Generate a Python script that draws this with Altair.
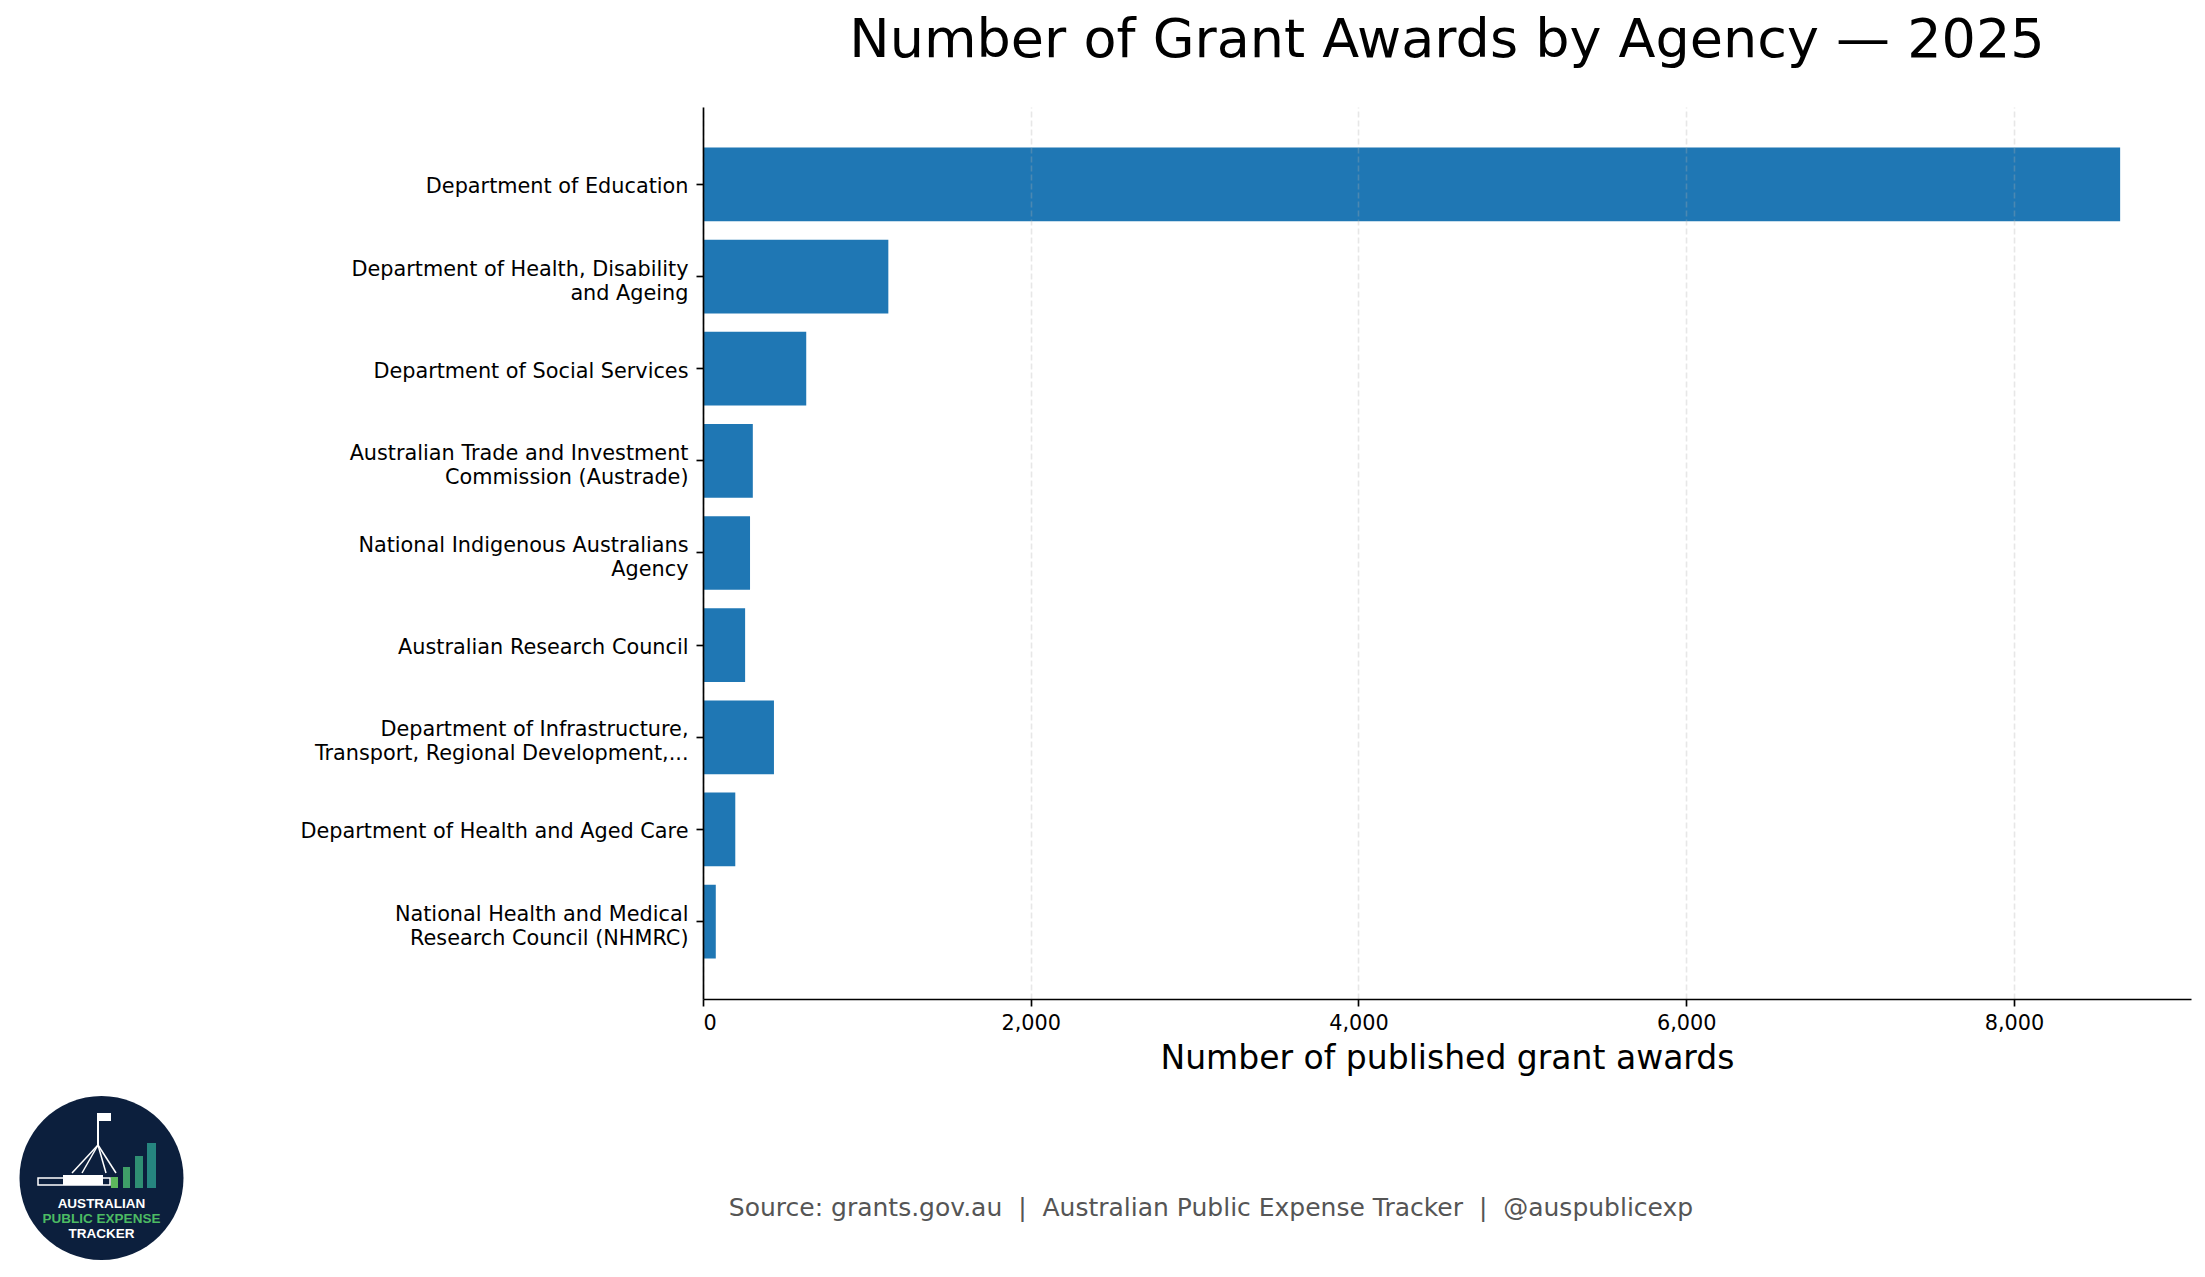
import altair as alt
import pandas as pd

# ---- data ----
agencies = [
    "Department of Education",
    "Department of Health, Disability\nand Ageing",
    "Department of Social Services",
    "Australian Trade and Investment\nCommission (Austrade)",
    "National Indigenous Australians\nAgency",
    "Australian Research Council",
    "Department of Infrastructure,\nTransport, Regional Development,...",
    "Department of Health and Aged Care",
    "National Health and Medical\nResearch Council (NHMRC)",
]
awards = [8648, 1131, 630, 304, 287, 257, 433, 197, 78]
x_ticks = [0, 2000, 4000, 6000, 8000]

title_text = "Number of Grant Awards by Agency \u2014 2025"
x_title = "Number of published grant awards"
source_parts = ["Source: grants.gov.au", "Australian Public Expense Tracker", "@auspublicexp"]
logo_lines = ["AUSTRALIAN", "PUBLIC EXPENSE", "TRACKER"]

source_text = "\u00a0\u00a0|\u00a0\u00a0".join(source_parts)

df = pd.DataFrame({"agency": agencies, "awards": awards})
x_max = max(awards) * 1.05

FONT = "DejaVu Sans"
W, H = 1488, 892

bars = alt.Chart(df).mark_bar(color="#1f77b4").encode(
    x=alt.X(
        "awards:Q",
        scale=alt.Scale(domain=[0, x_max], nice=False, zero=True),
        axis=alt.Axis(
            values=x_ticks,
            format=",d",
            title=x_title,
            titleFontSize=33,
            titleFontWeight="normal",
            titleColor="black",
            titleX=W / 2,
            titleY=69,
            titleAlign="center",
            titleBaseline="alphabetic",
            labelFontSize=20.8,
            labelPadding=7,
            tickSize=7,
            grid=True,
            gridColor="#b0b0b0",
            gridOpacity=0.3,
            gridDash=[6, 3],
            gridWidth=1.6,
            zindex=1,
        ),
    ),
    y=alt.Y(
        "agency:N",
        sort=agencies,
        scale=alt.Scale(paddingInner=0.2, paddingOuter=0.44),
        axis=alt.Axis(
            title=None,
            labelExpr="split(datum.label, '\\n')",
            labelFontSize=20.8,
            labelLineHeight=24,
            labelLimit=1000,
            labelPadding=8,
            labelOffset={
                "condition": {"test": "indexof(datum.label, '\\n') >= 0", "value": -7},
                "value": 3,
            },
            tickSize=7,
            grid=False,
            zindex=1,
        ),
    ),
)

one = pd.DataFrame({"k": [0]})

title = alt.Chart(one).mark_text(
    text=title_text, font=FONT, fontSize=54, color="black",
    align="center", baseline="alphabetic",
).encode(x=alt.value(W / 2), y=alt.value(-50))

source = alt.Chart(one).mark_text(
    text=source_text, font=FONT, fontSize=25, color="#555555",
    align="center", baseline="alphabetic",
).encode(x=alt.value(508), y=alt.value(1109))

# ---- logo (decoration) ----
LX, LY = -601.5, 1071
logo_bg = alt.Chart(one).mark_point(
    shape="circle", filled=True, size=26900, color="#0c1f3d", opacity=1, strokeWidth=0
).encode(x=alt.value(LX), y=alt.value(LY))

logo_layers = [logo_bg]
text_colors = ["white", "#4cbb63", "white"]
text_y = [1101, 1116, 1131]
for t, c, yy in zip(logo_lines, text_colors, text_y):
    logo_layers.append(
        alt.Chart(one).mark_text(
            text=t, font="Liberation Sans", fontWeight="bold", fontSize=13.5,
            color=c, align="center", baseline="alphabetic",
        ).encode(x=alt.value(LX), y=alt.value(yy))
    )

bar_specs = [(-592, -585, 1070, "#5cb85c"), (-580, -573, 1060, "#3f9f68"),
             (-568, -560, 1049, "#2f8f73"), (-556, -547, 1036, "#26857f")]
for x1, x2, top, col in bar_specs:
    logo_layers.append(
        alt.Chart(one).mark_rect(color=col).encode(
            x=alt.value(x1), x2=alt.value(x2), y=alt.value(top), y2=alt.value(1081)
        )
    )

# parliament house: building, pole, flag, legs
logo_layers.append(
    alt.Chart(one).mark_rect(fill="#0c1f3d", stroke="white", strokeWidth=1.5).encode(
        x=alt.value(-665), x2=alt.value(-593), y=alt.value(1071), y2=alt.value(1078)
    )
)
logo_layers.append(
    alt.Chart(one).mark_rect(color="white").encode(
        x=alt.value(-640), x2=alt.value(-600), y=alt.value(1068), y2=alt.value(1078)
    )
)
logo_layers.append(
    alt.Chart(one).mark_rule(color="white", strokeWidth=2).encode(
        x=alt.value(-605), y=alt.value(1006), y2=alt.value(1040)
    )
)
logo_layers.append(
    alt.Chart(one).mark_rect(color="white").encode(
        x=alt.value(-605), x2=alt.value(-592), y=alt.value(1006), y2=alt.value(1014)
    )
)
for ex in [-631, -621, -597, -587]:
    logo_layers.append(
        alt.Chart(one).mark_rule(color="white", strokeWidth=1.5).encode(
            x=alt.value(-605), x2=alt.value(ex), y=alt.value(1038), y2=alt.value(1066)
        )
    )

chart = alt.layer(bars, title, source, *logo_layers).properties(
    width=W,
    height=H,
    autosize=alt.AutoSizeParams(type="none"),
    padding={"left": 695, "top": 99, "right": 6, "bottom": 270},
    background="white",
).configure_view(stroke=None).configure_axis(
    labelFont=FONT, titleFont=FONT, labelColor="black",
    domainColor="black", tickColor="black", domainWidth=1.67, tickWidth=1.67,
)

chart.save("out.html", embed_options={"renderer": "svg", "actions": False})
